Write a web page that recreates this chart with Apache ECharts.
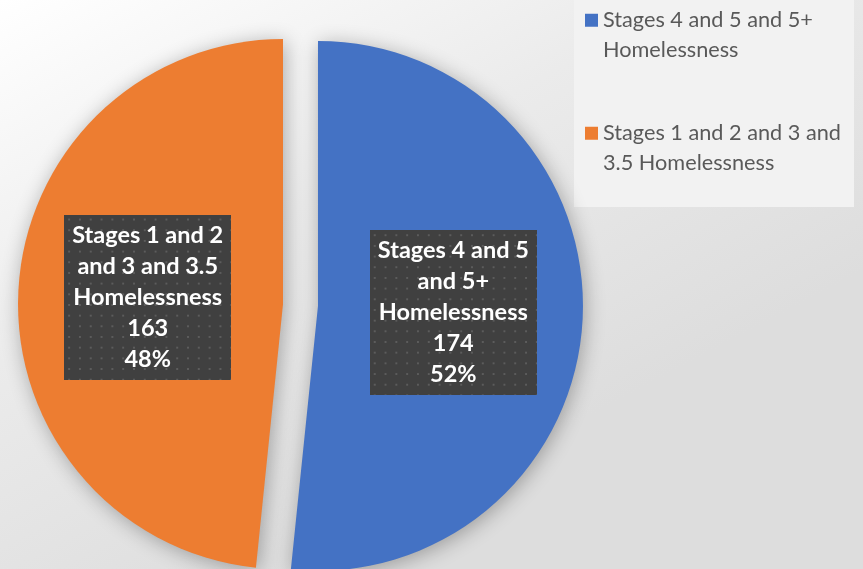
<!DOCTYPE html>
<html>
<head>
<meta charset="utf-8">
<script src="https://cdn.jsdelivr.net/npm/echarts@6/dist/echarts.min.js"></script>
<style>
html,body{margin:0;padding:0;background:#fff;}
#chart{width:863px;height:569px;}
</style>
</head>
<body>
<div id="chart"></div>
<script>
// ---- data ----
const categories = ['Stages 4 and 5 and 5+ Homelessness', 'Stages 1 and 2 and 3 and 3.5 Homelessness'];
const values = [174, 163];
const labelNameLines = [['Stages 4 and 5', 'and 5+', 'Homelessness'], ['Stages 1 and 2', 'and 3 and 3.5', 'Homelessness']];
const legendNameLines = [['Stages 4 and 5 and 5+', 'Homelessness'], ['Stages 1 and 2 and 3 and', '3.5 Homelessness']];
const colors = ['#4472C4', '#ED7D31'];

// dotted texture for label boxes
function makeDots(w, h) {
  const c = document.createElement('canvas');
  c.width = w; c.height = h;
  const g = c.getContext('2d');
  g.fillStyle = '#404040';
  g.fillRect(0, 0, w, h);
  g.fillStyle = 'rgba(255,255,255,0.15)';
  for (let y = 4; y < h; y += 11) {
    for (let x = 4; x < w; x += 11) {
      g.fillRect(x, y, 2, 2);
    }
  }
  return c;
}
const dots = makeDots(170, 170);

const L = 29.5;
const chart = echarts.init(document.getElementById('chart'), null, {renderer: 'canvas'});
const option = {
  animation: false,
  backgroundColor: {
    type: 'linear', x: 0, y: 0, x2: 0.35, y2: 1,
    colorStops: [
      {offset: 0, color: '#ffffff'},
      {offset: 0.5, color: '#ebebeb'},
      {offset: 1, color: '#dddddd'}
    ]
  },
  graphic: [{
    type: 'rect', left: 574, top: 0, z: -1,
    shape: {width: 280, height: 207},
    style: {fill: '#f2f2f2'}
  }],
  color: colors,
  legend: {
    orient: 'vertical',
    left: 585,
    top: -24,
    padding: 0,
    itemWidth: 13,
    itemHeight: 13,
    itemGap: 24.5,
    icon: 'rect',
    selectedMode: false,
    data: categories,
    formatter: function (name) {
      return ' \n' + legendNameLines[categories.indexOf(name)].join('\n');
    },
    textStyle: {
      fontFamily: 'Lato',
      fontSize: 21.7,
      color: '#595959',
      lineHeight: L
    }
  },
  series: [{
    type: 'pie',
    center: [300.5, 305],
    radius: 265,
    startAngle: 90,
    clockwise: true,
    selectedMode: 'multiple',
    selectedOffset: 17.5,
    percentPrecision: 0,
    emphasis: {disabled: true},
    select: {itemStyle: {}},
    itemStyle: {
      shadowBlur: 20,
      shadowColor: 'rgba(0,0,0,0.3)',
      shadowOffsetX: 2,
      shadowOffsetY: 3
    },
    label: {
      show: true,
      position: 'inside',
      color: '#ffffff',
      fontFamily: 'Lato',
      fontWeight: 'bold',
      fontSize: 23.5,
      lineHeight: 31,
      align: 'center',
      width: 151,
      overflow: 'none',
      padding: [6, 8, 4, 8],
      backgroundColor: {image: dots},
      shadowColor: 'rgba(0,0,0,0.55)',
      shadowBlur: 6,
      shadowOffsetX: 3,
      shadowOffsetY: 3,
      formatter: function (p) {
        return labelNameLines[p.dataIndex].join('\n') + '\n' + p.value + '\n' + p.percent + '%';
      }
    },
    labelLine: {show: false},
    data: categories.map(function (c, i) {
      return {name: c, value: values[i], selected: true};
    })
  }]
};
chart.setOption(option);
</script>
</body>
</html>
